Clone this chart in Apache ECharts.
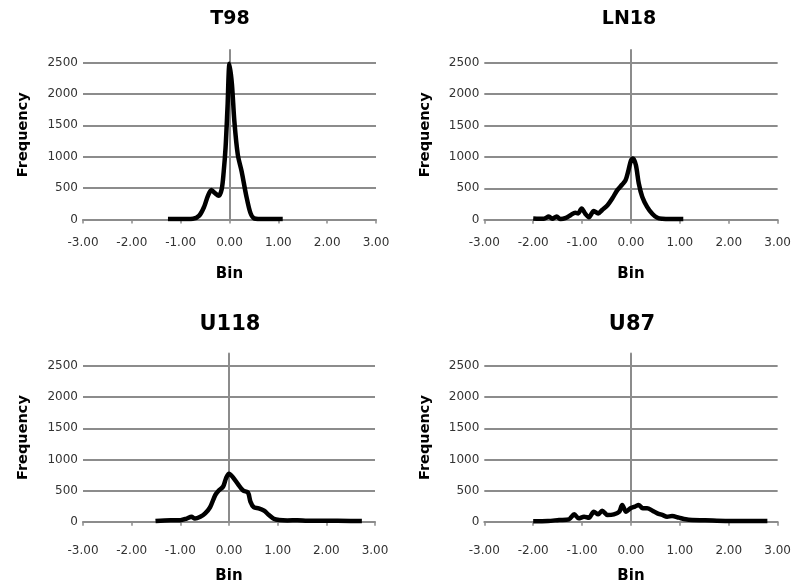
<!DOCTYPE html>
<html>
<head>
<meta charset="utf-8">
<script src="https://cdn.jsdelivr.net/npm/echarts@6/dist/echarts.min.js"></script>
<style>
  html, body { margin: 0; background: #fff; }
  #chart { width: 794px; height: 587px; }
</style>
</head>
<body>
<div id="chart"></div>
<script>
// values (bin centre -> frequency)
const t98Bins = [-1.26, -1.0, -0.75, -0.62, -0.52, -0.44, -0.37, -0.30, -0.22, -0.16, -0.12, -0.08, -0.04, 0, 0.05, 0.10, 0.17, 0.25, 0.34, 0.43, 0.51, 0.7, 0.9, 1.09];
const t98Freq = [5, 5, 10, 60, 200, 380, 470, 420, 375, 480, 750, 1150, 1800, 2480, 2150, 1560, 1030, 760, 390, 100, 15, 5, 5, 5];

const ln18Bins = [-2.0, -1.88, -1.78, -1.68, -1.61, -1.52, -1.44, -1.33, -1.23, -1.14, -1.08, -1.01, -0.93, -0.86, -0.76, -0.67, -0.59, -0.48, -0.38, -0.28, -0.18, -0.11, -0.05, 0, 0.04, 0.10, 0.16, 0.23, 0.33, 0.44, 0.54, 0.64, 0.8, 1.07];
const ln18Freq = [20, 15, 15, 50, 15, 50, 10, 30, 75, 110, 100, 180, 90, 40, 140, 100, 155, 230, 340, 470, 560, 630, 790, 940, 975, 870, 575, 365, 205, 90, 30, 15, 10, 10];

const u118Bins = [-1.51, -1.2, -1.0, -0.87, -0.77, -0.70, -0.59, -0.49, -0.39, -0.28, -0.21, -0.12, -0.06, 0, 0.08, 0.18, 0.29, 0.39, 0.44, 0.51, 0.61, 0.72, 0.82, 0.92, 1.03, 1.2, 1.41, 1.61, 1.96, 2.5, 2.73];
const u118Freq = [10, 25, 25, 50, 80, 50, 80, 135, 230, 430, 500, 565, 700, 770, 715, 608, 500, 468, 322, 230, 215, 177, 107, 48, 27, 20, 25, 15, 15, 12, 12];

const u87Bins = [-2.0, -1.7, -1.47, -1.27, -1.16, -1.07, -0.96, -0.86, -0.76, -0.67, -0.59, -0.48, -0.35, -0.24, -0.18, -0.10, -0.01, 0.08, 0.16, 0.24, 0.33, 0.44, 0.54, 0.64, 0.74, 0.84, 0.98, 1.12, 1.25, 1.52, 1.93, 2.3, 2.79];
const u87Freq = [8, 12, 27, 38, 118, 54, 80, 65, 160, 118, 177, 108, 118, 160, 270, 160, 215, 242, 270, 215, 215, 177, 134, 108, 80, 91, 65, 38, 27, 22, 11, 10, 10];

// axis ticks
const xTicks = [-3, -2, -1, 0, 1, 2, 3];
const yTicks = [0, 500, 1000, 1500, 2000, 2500];
const yTop = 2700; // the zero line runs a bit above the top gridline

const panels = [
  { name: 'T98', bins: t98Bins, freq: t98Freq, grid: { left: 83, right: 418, top: 50, bottom: 367.6 }, titleX: 230, titleTop: 10, titleSize: 19, labelMargin: 17.5 },
  { name: 'LN18', bins: ln18Bins, freq: ln18Freq, grid: { left: 484.3, right: 16, top: 50, bottom: 367.3 }, titleX: 629, titleTop: 10, titleSize: 19, labelMargin: 17.5 },
  { name: 'U118', bins: u118Bins, freq: u118Freq, grid: { left: 83, right: 419, top: 353.5, bottom: 65.3 }, titleX: 230, titleTop: 314, titleSize: 21, labelMargin: 23 },
  { name: 'U87', bins: u87Bins, freq: u87Freq, grid: { left: 484.3, right: 16, top: 353.5, bottom: 65.3 }, titleX: 632, titleTop: 314, titleSize: 21, labelMargin: 23 }
];

const gridColor = '#8c8c8c';
const textColor = '#333';
const font = 'DejaVu Sans';

const chart = echarts.init(document.getElementById('chart'));

const option = {
  animation: false,
  backgroundColor: '#fff',
  title: panels.map((p) => ({
    text: p.name,
    left: p.titleX,
    top: p.titleTop,
    textAlign: 'center',
    padding: 0,
    textStyle: { fontFamily: font, fontWeight: 'bold', fontSize: p.titleSize, color: '#000' }
  })),
  grid: panels.map((p) => ({ ...p.grid, containLabel: false })),
  xAxis: panels.map((p, i) => ({
    type: 'value',
    gridIndex: i,
    min: xTicks[0],
    max: xTicks[xTicks.length - 1],
    interval: xTicks[1] - xTicks[0],
    name: 'Bin',
    nameLocation: 'middle',
    nameGap: 47,
    nameTextStyle: { fontFamily: font, fontWeight: 'bold', fontSize: 15, color: '#000' },
    axisLine: { lineStyle: { color: gridColor, width: 2 } },
    axisTick: { show: true, length: 4, lineStyle: { color: gridColor, width: 1.5 } },
    axisLabel: { margin: p.labelMargin, fontFamily: font, fontSize: 12, color: textColor, formatter: (v) => v.toFixed(2) },
    splitLine: { show: false }
  })),
  yAxis: panels.flatMap((p, i) => [
    {
      type: 'value',
      gridIndex: i,
      min: yTicks[0],
      max: yTop,
      interval: yTicks[1] - yTicks[0],
      name: 'Frequency',
      nameLocation: 'middle',
      nameGap: 52,
      nameTextStyle: { fontFamily: font, fontWeight: 'bold', fontSize: 14.5, color: '#000' },
      axisLine: { show: false, onZero: false },
      axisTick: { show: false },
      axisLabel: { margin: 5, fontFamily: font, fontSize: 12, color: textColor, showMaxLabel: false, formatter: (v) => String(v) },
      splitLine: { show: true, showMaxLine: false, lineStyle: { color: gridColor, width: 2 } }
    },
    {
      // vertical line through x = 0
      type: 'value',
      gridIndex: i,
      min: yTicks[0],
      max: yTop,
      axisLine: { show: true, onZero: true, lineStyle: { color: gridColor, width: 2 } },
      axisTick: { show: false },
      axisLabel: { show: false },
      splitLine: { show: false }
    }
  ]),
  series: panels.map((p, i) => ({
    type: 'line',
    name: p.name,
    xAxisIndex: i,
    yAxisIndex: i * 2,
    data: p.bins.map((b, k) => [b, p.freq[k]]),
    smooth: 0.3,
    showSymbol: false,
    lineStyle: { color: '#000', width: 4.5 },
    itemStyle: { color: '#000' }
  }))
};

chart.setOption(option);
</script>
</body>
</html>
